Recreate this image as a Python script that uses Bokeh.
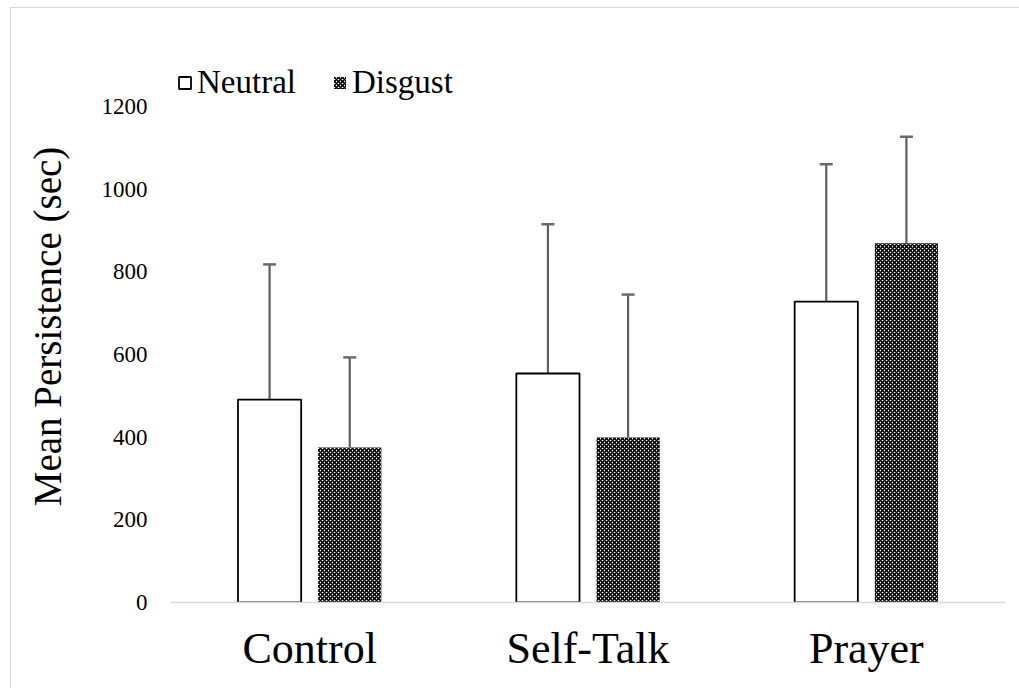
from bokeh.plotting import figure
from bokeh.models import (ColumnDataSource, FactorRange, Range1d, Whisker, TeeHead,
                          Legend, LegendItem, FixedTicker)
from bokeh.transform import dodge
from bokeh.embed import file_html
from bokeh.resources import INLINE

categories = ["Control", "Self-Talk", "Prayer"]
neutral_mean = [491, 554, 728]
neutral_upper = [818, 915, 1060]
disgust_mean = [375, 399, 869]
disgust_upper = [593, 745, 1127]
y_ticks = [0, 200, 400, 600, 800, 1000, 1200]

FONT = "Liberation Serif"

src_n = ColumnDataSource(dict(cat=categories, top=neutral_mean, upper=neutral_upper))
src_d = ColumnDataSource(dict(cat=categories, top=disgust_mean, upper=disgust_upper))

p = figure(width=1019, height=688, x_range=FactorRange(*categories, range_padding=0),
           y_range=Range1d(0, 1335.5), output_backend="svg", toolbar_location=None,
           min_border_left=170, min_border_right=14, min_border_top=50, min_border_bottom=86)

p.outline_line_color = None
p.xgrid.grid_line_color = None
p.ygrid.grid_line_color = None
p.background_fill_color = "white"
p.border_fill_color = "white"

off = 0.144
bw = 0.227
rn = p.vbar(x=dodge("cat", -off, range=p.x_range), top="top", width=bw, source=src_n,
            fill_color="white", line_color="black", line_width=1.8)
rd = p.vbar(x=dodge("cat", off, range=p.x_range), top="top", width=bw, source=src_d,
            fill_color="white", line_color=None, hatch_pattern="x", hatch_scale=4,
            hatch_weight=1.6, hatch_color="black")

for src, o in ((src_n, -off), (src_d, off)):
    w = Whisker(base=dodge("cat", o, range=p.x_range), upper="upper", lower="top", source=src,
                line_color="#5f5f5f", line_width=2.2,
                upper_head=TeeHead(size=13, line_color="#6a6a6a", line_width=2.5),
                lower_head=None)
    p.add_layout(w)

# axes
p.yaxis.ticker = FixedTicker(ticks=y_ticks)
p.yaxis.axis_line_color = None
p.yaxis.major_tick_line_color = None
p.yaxis.minor_tick_line_color = None
p.yaxis.major_label_standoff = 17
p.yaxis.major_label_text_font = FONT
p.yaxis.major_label_text_font_size = "23px"
p.yaxis.major_label_text_color = "black"
p.yaxis.axis_label = "Mean Persistence (sec)"
p.yaxis.axis_label_text_font = FONT
p.yaxis.axis_label_text_font_size = "39px"
p.yaxis.axis_label_text_font_style = "normal"
p.yaxis.axis_label_text_color = "black"
p.yaxis.axis_label_standoff = 30

p.xaxis.axis_line_color = "#d9d9d9"
p.xaxis.axis_line_width = 1.5
p.xaxis.major_tick_line_color = None
p.xaxis.minor_tick_line_color = None
p.xaxis.major_label_standoff = 15
p.xaxis.major_label_text_font = FONT
p.xaxis.major_label_text_font_size = "44px"
p.xaxis.major_label_text_color = "black"

legend = Legend(items=[LegendItem(label="Neutral", renderers=[rn]),
                       LegendItem(label="Disgust", renderers=[rd])],
                orientation="horizontal", location=(7, 501),
                border_line_color=None, background_fill_alpha=0,
                padding=0, margin=0, spacing=36, label_standoff=5,
                glyph_width=15, glyph_height=15,
                label_text_font=FONT, label_text_font_size="33px",
                label_text_color="black")
p.add_layout(legend, "center")

html = file_html(p, INLINE)
frame_div = ('<div style="position:fixed;left:10px;top:7px;width:1040px;height:720px;'
             'border:1.5px solid #d9d9d9;pointer-events:none;z-index:1000;"></div>')
html = html.replace("</body>", frame_div + "</body>", 1)
open("out.html", "w").write(html)
